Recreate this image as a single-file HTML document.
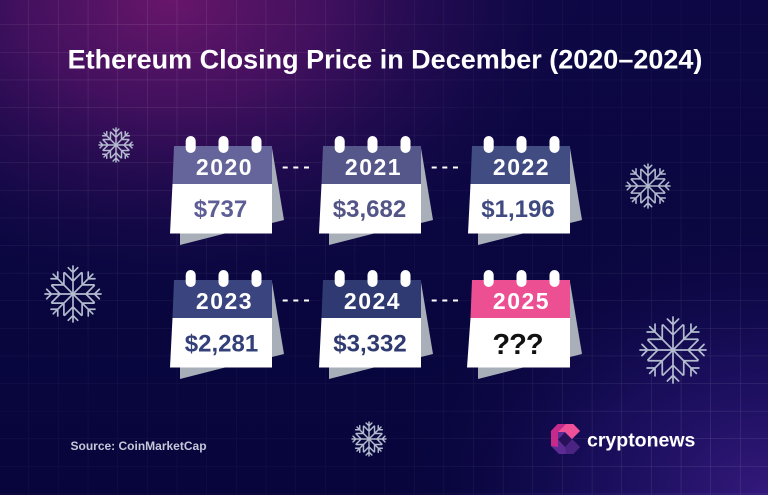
<!DOCTYPE html>
<html><head><meta charset="utf-8">
<style>
html,body{margin:0;padding:0;}
body{width:768px;height:495px;overflow:hidden;background:#0c0844;}
svg{display:block;font-family:"Liberation Sans",sans-serif;font-weight:bold;}
</style></head>
<body>
<svg width="768" height="495" viewBox="0 0 768 495" xmlns="http://www.w3.org/2000/svg">
<defs>
  <radialGradient id="bgTL" cx="170" cy="0" r="430" gradientUnits="userSpaceOnUse" gradientTransform="translate(170 0) scale(1 0.7) translate(-170 0)">
    <stop offset="0" stop-color="#68166b"/>
    <stop offset="0.35" stop-color="#4c1263" stop-opacity="0.85"/>
    <stop offset="0.7" stop-color="#2a0c55" stop-opacity="0.45"/>
    <stop offset="1" stop-color="#0c0844" stop-opacity="0"/>
  </radialGradient>
  <radialGradient id="bgBR" cx="768" cy="495" r="380" gradientUnits="userSpaceOnUse" gradientTransform="translate(768 495) scale(1 0.75) translate(-768 -495)">
    <stop offset="0" stop-color="#34197c"/>
    <stop offset="0.5" stop-color="#22126a" stop-opacity="0.6"/>
    <stop offset="1" stop-color="#0c0844" stop-opacity="0"/>
  </radialGradient>
  <linearGradient id="bgBase" x1="0" y1="0" x2="0" y2="1">
    <stop offset="0" stop-color="#0d0845"/>
    <stop offset="1" stop-color="#07053b"/>
  </linearGradient>
  <pattern id="grid" x="-0.65" y="-2.6" width="29.65" height="27.6" patternUnits="userSpaceOnUse">
    <rect x="29.15" y="0" width="1" height="27.6" fill="#fff"/>
    <rect x="0" y="27.1" width="29.65" height="1" fill="#fff"/>
  </pattern>
  <radialGradient id="mTL" cx="150" cy="40" r="360" gradientUnits="userSpaceOnUse">
    <stop offset="0" stop-color="#fff" stop-opacity="1"/>
    <stop offset="1" stop-color="#fff" stop-opacity="0"/>
  </radialGradient>
  <radialGradient id="mBR" cx="700" cy="440" r="330" gradientUnits="userSpaceOnUse">
    <stop offset="0" stop-color="#fff" stop-opacity="1"/>
    <stop offset="1" stop-color="#fff" stop-opacity="0"/>
  </radialGradient>
  <mask id="gm">
    <rect width="768" height="495" fill="#fff" fill-opacity="0.3"/>
    <rect width="768" height="495" fill="url(#mTL)"/>
    <rect width="768" height="495" fill="url(#mBR)"/>
  </mask>
  <g id="arm">
    <path d="M0 0V-10M-3 -7.6L0 -4.6L3 -7.6M-1.7 -9.4L0 -7.7L1.7 -9.4" fill="none"/>
  </g>
  <g id="sf">
    <use href="#arm"/>
    <use href="#arm" transform="rotate(45)"/>
    <use href="#arm" transform="rotate(90)"/>
    <use href="#arm" transform="rotate(135)"/>
    <use href="#arm" transform="rotate(180)"/>
    <use href="#arm" transform="rotate(225)"/>
    <use href="#arm" transform="rotate(270)"/>
    <use href="#arm" transform="rotate(315)"/>
    <circle r="0.7" fill="#b3bbcf" stroke="none"/>
  </g>
</defs>

<!-- background -->
<rect width="768" height="495" fill="url(#bgBase)"/>
<rect width="768" height="495" fill="url(#bgTL)"/>
<rect width="768" height="495" fill="url(#bgBR)"/>
<rect width="768" height="495" fill="url(#grid)" opacity="0.17" mask="url(#gm)"/>

<!-- title -->
<text x="385" y="68.5" text-anchor="middle" font-size="27" fill="#ffffff">Ethereum Closing Price in December (2020–2024)</text>

<!-- snowflakes -->
<g stroke="#b3bbcf" stroke-linecap="round" stroke-linejoin="round">
  <use href="#sf" transform="translate(116 145) scale(1.7)" stroke-width="0.85"/>
  <use href="#sf" transform="translate(648 186) scale(2.2)" stroke-width="0.7"/>
  <use href="#sf" transform="translate(73 294) scale(2.8)" stroke-width="0.6"/>
  <use href="#sf" transform="translate(673 350) scale(3.3)" stroke-width="0.52"/>
  <use href="#sf" transform="translate(369 439) scale(1.7)" stroke-width="0.85"/>
</g>

<!-- dashes -->
<g fill="#ffffff">
  <rect x="282.7" y="166.5" width="5" height="2"/><rect x="293.3" y="166.5" width="5" height="2"/><rect x="304" y="166.5" width="5" height="2"/>
  <rect x="431.7" y="166.5" width="5" height="2"/><rect x="442.3" y="166.5" width="5" height="2"/><rect x="453" y="166.5" width="5" height="2"/>
  <rect x="282.7" y="299.5" width="5" height="2"/><rect x="293.3" y="299.5" width="5" height="2"/><rect x="304" y="299.5" width="5" height="2"/>
  <rect x="431.7" y="299.5" width="5" height="2"/><rect x="442.3" y="299.5" width="5" height="2"/><rect x="453" y="299.5" width="5" height="2"/>
</g>

<!-- calendars -->
<g transform="translate(173 146)">
  <polygon points="99,2 111,74 99,77" fill="#a8afb8"/>
  <polygon points="7,87 7,99 54,87" fill="#a8afb8"/>
  <polygon points="1,0 99,0 99,38 -0.5,38" fill="#65659b"/>
  <polygon points="-0.5,38 99,38 99,87.5 -3,87.5" fill="#ffffff"/>
  <rect x="12.7" y="-10" width="10" height="17" rx="5" fill="#fff"/>
  <rect x="45.5" y="-10" width="10" height="17" rx="5" fill="#fff"/>
  <rect x="78.5" y="-10" width="10" height="17" rx="5" fill="#fff"/>
  <text x="51.5" y="29" text-anchor="middle" font-size="23" letter-spacing="1.5" fill="#fff">2020</text>
  <text x="47.5" y="71" text-anchor="middle" font-size="24" fill="#5e5d95">$737</text>
</g>
<g transform="translate(322 146)">
  <polygon points="99,2 111,74 99,77" fill="#a8afb8"/>
  <polygon points="7,87 7,99 54,87" fill="#a8afb8"/>
  <polygon points="1,0 99,0 99,38 -0.5,38" fill="#55578a"/>
  <polygon points="-0.5,38 99,38 99,87.5 -3,87.5" fill="#ffffff"/>
  <rect x="12.7" y="-10" width="10" height="17" rx="5" fill="#fff"/>
  <rect x="45.5" y="-10" width="10" height="17" rx="5" fill="#fff"/>
  <rect x="78.5" y="-10" width="10" height="17" rx="5" fill="#fff"/>
  <text x="51.5" y="29" text-anchor="middle" font-size="23" letter-spacing="1.5" fill="#fff">2021</text>
  <text x="47.5" y="71" text-anchor="middle" font-size="24" fill="#525585">$3,682</text>
</g>
<g transform="translate(471 146)">
  <polygon points="99,2 111,74 99,77" fill="#a8afb8"/>
  <polygon points="7,87 7,99 54,87" fill="#a8afb8"/>
  <polygon points="1,0 99,0 99,38 -0.5,38" fill="#414c82"/>
  <polygon points="-0.5,38 99,38 99,87.5 -3,87.5" fill="#ffffff"/>
  <rect x="12.7" y="-10" width="10" height="17" rx="5" fill="#fff"/>
  <rect x="45.5" y="-10" width="10" height="17" rx="5" fill="#fff"/>
  <rect x="78.5" y="-10" width="10" height="17" rx="5" fill="#fff"/>
  <text x="50.5" y="29" text-anchor="middle" font-size="23" letter-spacing="1.5" fill="#fff">2022</text>
  <text x="47" y="71" text-anchor="middle" font-size="24" fill="#3f4a80">$1,196</text>
</g>
<g transform="translate(173 280)">
  <polygon points="99,2 111,74 99,77" fill="#a8afb8"/>
  <polygon points="7,87 7,99 54,87" fill="#a8afb8"/>
  <polygon points="1,0 99,0 99,38 -0.5,38" fill="#3a4580"/>
  <polygon points="-0.5,38 99,38 99,87.5 -3,87.5" fill="#ffffff"/>
  <rect x="12.7" y="-10" width="10" height="17" rx="5" fill="#fff"/>
  <rect x="45.5" y="-10" width="10" height="17" rx="5" fill="#fff"/>
  <rect x="78.5" y="-10" width="10" height="17" rx="5" fill="#fff"/>
  <text x="51.5" y="29" text-anchor="middle" font-size="23" letter-spacing="1.5" fill="#fff">2023</text>
  <text x="48.5" y="71.5" text-anchor="middle" font-size="24" fill="#34407a">$2,281</text>
</g>
<g transform="translate(322 280)">
  <polygon points="99,2 111,74 99,77" fill="#a8afb8"/>
  <polygon points="7,87 7,99 54,87" fill="#a8afb8"/>
  <polygon points="1,0 99,0 99,38 -0.5,38" fill="#2e3a71"/>
  <polygon points="-0.5,38 99,38 99,87.5 -3,87.5" fill="#ffffff"/>
  <rect x="12.7" y="-10" width="10" height="17" rx="5" fill="#fff"/>
  <rect x="45.5" y="-10" width="10" height="17" rx="5" fill="#fff"/>
  <rect x="78.5" y="-10" width="10" height="17" rx="5" fill="#fff"/>
  <text x="50.5" y="29" text-anchor="middle" font-size="23" letter-spacing="1.5" fill="#fff">2024</text>
  <text x="48" y="71.5" text-anchor="middle" font-size="24" fill="#2e3a70">$3,332</text>
</g>
<g transform="translate(471 280)">
  <polygon points="99,2 111,74 99,77" fill="#a8afb8"/>
  <polygon points="7,87 7,99 54,87" fill="#a8afb8"/>
  <polygon points="1,0 99,0 99,38 -0.5,38" fill="#ec4f92"/>
  <polygon points="-0.5,38 99,38 99,87.5 -4,87.5" fill="#ffffff"/>
  <rect x="12.7" y="-10" width="10" height="17" rx="5" fill="#fff"/>
  <rect x="45.5" y="-10" width="10" height="17" rx="5" fill="#fff"/>
  <rect x="78.5" y="-10" width="10" height="17" rx="5" fill="#fff"/>
  <text x="50.5" y="29" text-anchor="middle" font-size="23" letter-spacing="1.5" fill="#fff">2025</text>
  <text x="46.5" y="74" text-anchor="middle" font-size="29" letter-spacing="-1" fill="#111111">???</text>
</g>

<!-- source -->
<text x="70.5" y="450" font-size="12" fill="#c3c7d9">Source: CoinMarketCap</text>

<!-- cryptonews logo -->
<g>
  <polygon points="557.7,424 573.3,424 580,431 572,439 580,447 573.3,454 559,454 551,446 551,431" fill="#5c2c94"/>
  <polygon points="557.7,424 566,424 558,432 558,447 551,446 551,431" fill="#c62b8c"/>
  <polygon points="566,424 573.3,424 580,431 572,439 565,432 558,432" fill="#ee5198"/>
  <polygon points="565,447 572,439 580,447 573.3,454 566,454" fill="#4a2383"/>
  <polygon points="565,432.5 572,439.5 565,447 558,439.5" fill="#271158"/>
</g>
<text x="587" y="446.5" font-size="19.5" fill="#ffffff">cryptonews</text>
</svg>
</body></html>
